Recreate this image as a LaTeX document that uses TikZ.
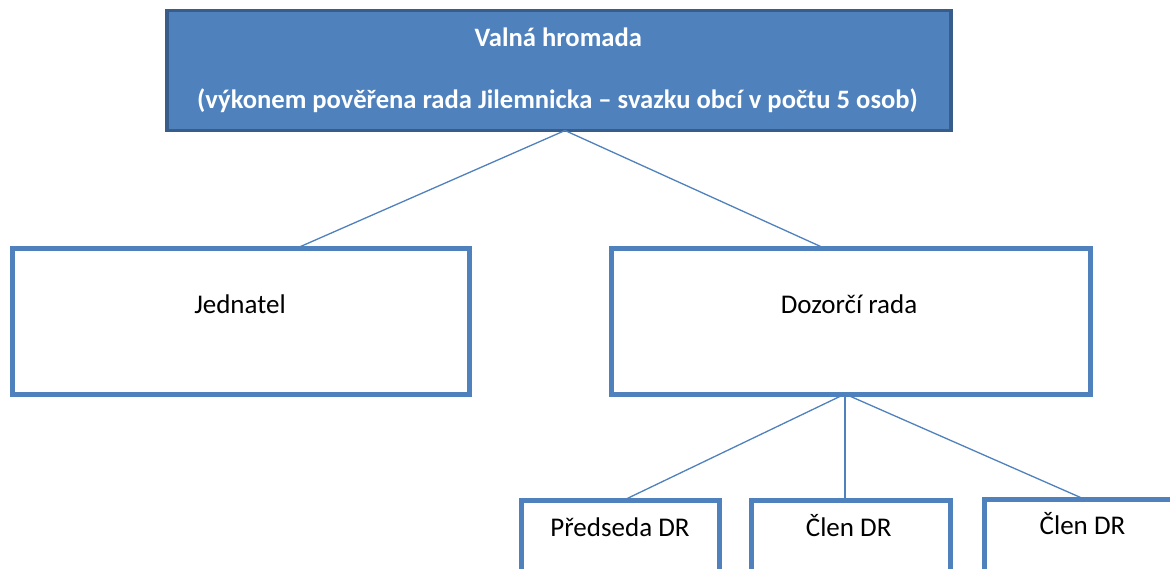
\documentclass[tikz,border=0pt]{standalone}
\usepackage{fontspec}
\setmainfont{Carlito}
\definecolor{boxblue}{HTML}{4F81BD}
\definecolor{darkblue}{HTML}{385D8A}
\begin{document}
\begin{tikzpicture}[x=1pt,y=-1pt,
  topbox/.style={draw=darkblue, fill=boxblue, line width=3.5pt, inner sep=0pt, outer sep=0pt},
  orgbox/.style={draw=boxblue, line width=5pt, inner sep=0pt, outer sep=0pt},
  conn/.style={draw=boxblue, line width=1.3pt},
  lbl/.style={font=\fontsize{27}{32}\selectfont, inner sep=0pt, anchor=base},
  toplbl/.style={font=\fontsize{26.6}{31}\selectfont\bfseries, text=white, inner sep=0pt, anchor=base}
]
\useasboundingbox (0,0) rectangle (1170,568);
\clip (0,0) rectangle (1170,568);
\fill[white] (0,0) rectangle (1170,568);

% boxes
\node[topbox, minimum width=784pt, minimum height=120pt] (vh) at (559,70.5) {};
\node[orgbox, minimum width=456.5pt, minimum height=145.5pt] (jed) at (240.75,321.25) {};
\node[orgbox, minimum width=479.5pt, minimum height=145.5pt] (dz) at (850.75,321.25) {};
\node[orgbox, minimum width=198pt, minimum height=150pt] (pds) at (620,575.5) {};
\node[orgbox, minimum width=199.5pt, minimum height=150pt] (c1) at (850.75,575.5) {};
\node[orgbox, minimum width=200pt, minimum height=150pt] (c2) at (1084,574) {};

% connectors
\draw[conn] ([xshift=6pt]vh.south) -- ([xshift=55.25pt]jed.north);
\draw[conn] ([xshift=6pt]vh.south) -- ([xshift=-25.75pt]dz.north);
\draw[conn] ([xshift=-5.75pt]dz.south) -- ([xshift=3pt]pds.north);
\draw[conn] ([xshift=-5.75pt]dz.south) -- ([xshift=-5.75pt]c1.north);
\draw[conn] ([xshift=-5.75pt]dz.south) -- (c2.north);

% labels
\node[toplbl] (vht1) at (558.3,46.7) {Valná hromada};
\node[toplbl] (vht2) at (557.5,108.5) {(výkonem pověřena rada Jilemnicka – svazku obcí v počtu 5 osob)};
\node[lbl] (jedt) at (240,313) {Jednatel};
\node[lbl] (dzt) at (849,313) {Dozorčí rada};
\node[lbl] (pdst) at (620,536.7) {Předseda DR};
\node[lbl] (c1t) at (848.7,536.7) {Člen DR};
\node[lbl] (c2t) at (1082.5,534.3) {Člen DR};
\end{tikzpicture}
\end{document}
